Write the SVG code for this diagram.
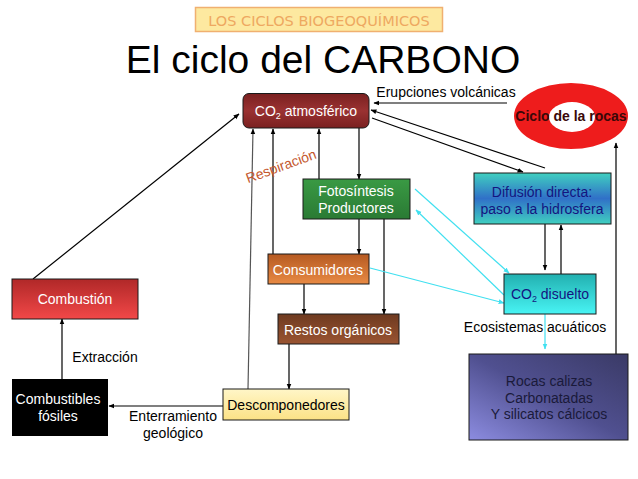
<svg xmlns="http://www.w3.org/2000/svg" width="638" height="479" viewBox="0 0 638 479">
<style>
.t{font-family:"Liberation Sans",Arial,sans-serif;font-size:14px;text-anchor:middle}
.w{fill:#ffffff}
.k{fill:#000000}
.ln{stroke:#000;stroke-width:1.2;fill:none}
.cy{stroke:#40e0f0;stroke-width:1.2;fill:none}
.bx{stroke:#1a1a1a;stroke-width:1}
</style>
<defs>
<marker id="a" viewBox="0 0 10 10" refX="9" refY="5" markerWidth="6" markerHeight="6" orient="auto" markerUnits="userSpaceOnUse"><path d="M0,1 L10,5 L0,9 z" fill="#000"/></marker>
<marker id="c" viewBox="0 0 10 10" refX="9" refY="5" markerWidth="6" markerHeight="6" orient="auto" markerUnits="userSpaceOnUse"><path d="M0,1 L10,5 L0,9 z" fill="#40e0f0"/></marker>
<linearGradient id="gAtm" x1="0" y1="0" x2="0" y2="1"><stop offset="0" stop-color="#7a2020"/><stop offset="0.5" stop-color="#9a3232"/><stop offset="1" stop-color="#7a2020"/></linearGradient>
<linearGradient id="gFot" x1="0" y1="0" x2="0" y2="1"><stop offset="0" stop-color="#3a9a44"/><stop offset="1" stop-color="#2a7a34"/></linearGradient>
<linearGradient id="gCon" x1="0" y1="0" x2="0" y2="1"><stop offset="0" stop-color="#b65a22"/><stop offset="1" stop-color="#e88a44"/></linearGradient>
<linearGradient id="gRes" x1="0" y1="0" x2="0" y2="1"><stop offset="0" stop-color="#6e3a20"/><stop offset="1" stop-color="#9a5432"/></linearGradient>
<linearGradient id="gDes" x1="0" y1="0" x2="0" y2="1"><stop offset="0" stop-color="#fff6c8"/><stop offset="1" stop-color="#fce286"/></linearGradient>
<linearGradient id="gCmb" x1="0" y1="0" x2="0" y2="1"><stop offset="0" stop-color="#b02828"/><stop offset="1" stop-color="#f24848"/></linearGradient>
<linearGradient id="gDif" x1="0" y1="0" x2="0" y2="1"><stop offset="0" stop-color="#40d0c0"/><stop offset="0.5" stop-color="#3070c8"/><stop offset="1" stop-color="#40d0c0"/></linearGradient>
<linearGradient id="gDis" x1="0" y1="0" x2="0" y2="1"><stop offset="0" stop-color="#22b0b0"/><stop offset="1" stop-color="#48f4f4"/></linearGradient>
<linearGradient id="gRoc" x1="0" y1="1" x2="1" y2="0"><stop offset="0" stop-color="#8c8ce0"/><stop offset="0.5" stop-color="#505090"/><stop offset="1" stop-color="#3a3a66"/></linearGradient>
</defs>

<g id="header">
<rect x="195.5" y="7.5" width="247" height="24" fill="#fde9a0" stroke="#f0b070" stroke-width="1.5"/>
<text x="319" y="26" font-family="'DejaVu Sans',Verdana,sans-serif" font-size="14.5" fill="#eea860" text-anchor="middle">LOS CICLOS BIOGEOQUÍMICOS</text>
<text x="323" y="73" font-family="'Liberation Sans',Arial,sans-serif" font-size="39" fill="#000" text-anchor="middle">El ciclo del CARBONO</text>
</g>

<g id="connectors">
<line class="ln" x1="507" y1="103" x2="374" y2="103" marker-end="url(#a)"/>
<line class="ln" x1="545" y1="168" x2="371" y2="110" marker-end="url(#a)"/>
<line class="ln" x1="372" y1="118" x2="523" y2="172" marker-end="url(#a)"/>
<line class="ln" x1="545" y1="224" x2="545" y2="270" marker-end="url(#a)"/>
<line class="ln" x1="561" y1="274" x2="561" y2="225" marker-end="url(#a)"/>
<line class="ln" x1="616" y1="354" x2="616" y2="143" marker-end="url(#a)"/>
<line class="ln" x1="33" y1="279" x2="239" y2="114" marker-end="url(#a)"/>
<line class="ln" x1="359" y1="128" x2="359" y2="179" marker-end="url(#a)"/>
<line class="ln" x1="319" y1="179" x2="319" y2="129" marker-end="url(#a)"/>
<line class="ln" x1="273" y1="254" x2="273" y2="129" marker-end="url(#a)"/>
<line x1="248" y1="389" x2="253" y2="129" stroke="#555" stroke-width="1.2" marker-end="url(#a)"/>
<line class="ln" x1="359" y1="219" x2="359" y2="254" marker-end="url(#a)"/>
<line class="ln" x1="384" y1="219" x2="384" y2="314" marker-end="url(#a)"/>
<line class="ln" x1="304" y1="284" x2="304" y2="314" marker-end="url(#a)"/>
<line class="ln" x1="289" y1="344" x2="289" y2="389" marker-end="url(#a)"/>
<line class="ln" x1="223" y1="406" x2="109" y2="406" marker-end="url(#a)"/>
<line class="ln" x1="62" y1="379" x2="62" y2="319" marker-end="url(#a)"/>
<line class="cy" x1="415" y1="189" x2="509" y2="273" marker-end="url(#c)"/>
<line class="cy" x1="504" y1="295" x2="416" y2="210" marker-end="url(#c)"/>
<line class="cy" x1="370" y1="268" x2="504" y2="303" marker-end="url(#c)"/>
<line class="cy" x1="545" y1="314" x2="545" y2="349" marker-end="url(#c)"/>
</g>

<g id="labels">
<text class="t k" x="446" y="97">Erupciones volcánicas</text>
<text class="t k" x="535" y="332">Ecosistemas acuáticos</text>
<text class="t k" x="105" y="362">Extracción</text>
<text class="t k" x="173" y="421">Enterramiento</text>
<text class="t k" x="173" y="438">geológico</text>
<text class="t" x="281" y="171" fill="#c4582e" font-size="15" transform="rotate(-20 281 166)">Respiración</text>
</g>

<g id="ciclo-rocas">
<ellipse cx="571" cy="116" rx="57" ry="33" fill="#ee1c1c"/>
<ellipse cx="572" cy="117" rx="23" ry="15" fill="#ffffff"/>
<text class="t" x="571" y="121" font-size="12" font-weight="bold" fill="#3a0808">Ciclo de la rocas</text>
</g>

<g id="co2-atm">
<rect class="bx" x="243" y="93.5" width="126" height="34.5" rx="6" fill="url(#gAtm)"/>
<text class="t w" x="306" y="116">CO<tspan font-size="9" dy="3">2</tspan><tspan dy="-3"> atmosférico</tspan></text>
</g>

<g id="fotosintesis">
<rect class="bx" x="303" y="179" width="107" height="40" fill="url(#gFot)"/>
<text class="t w" x="356" y="196">Fotosíntesis</text>
<text class="t w" x="356" y="213">Productores</text>
</g>

<g id="difusion">
<rect class="bx" x="474" y="173" width="137" height="51" fill="url(#gDif)"/>
<text class="t" x="542" y="197" fill="#141480">Difusión directa:</text>
<text class="t" x="542" y="214" fill="#141480">paso a la hidrosfera</text>
</g>

<g id="consumidores">
<rect class="bx" x="268" y="254" width="101" height="30" fill="url(#gCon)"/>
<text class="t w" x="318" y="275">Consumidores</text>
</g>

<g id="co2-disuelto">
<rect class="bx" x="504" y="274" width="92" height="40" fill="url(#gDis)"/>
<text class="t" x="550" y="299" fill="#141480">CO<tspan font-size="9" dy="3">2</tspan><tspan dy="-3"> disuelto</tspan></text>
</g>

<g id="combustion">
<rect class="bx" x="12" y="279" width="126" height="40" fill="url(#gCmb)"/>
<text class="t w" x="75" y="304">Combustión</text>
</g>

<g id="restos">
<rect class="bx" x="278" y="314" width="121" height="30" fill="url(#gRes)"/>
<text class="t w" x="338" y="335">Restos orgánicos</text>
</g>

<g id="rocas">
<rect class="bx" x="469" y="354" width="159" height="86" fill="url(#gRoc)"/>
<text class="t" x="549" y="386" fill="#1a1a3a">Rocas calizas</text>
<text class="t" x="549" y="403" fill="#1a1a3a">Carbonatadas</text>
<text class="t" x="549" y="419" fill="#1a1a3a">Y silicatos cálcicos</text>
</g>

<g id="combustibles">
<rect x="12" y="379" width="96" height="57" fill="#000"/>
<text class="t w" x="58" y="404">Combustibles</text>
<text class="t w" x="58" y="421">fósiles</text>
</g>

<g id="descomponedores">
<rect class="bx" x="223" y="389" width="126" height="31" fill="url(#gDes)"/>
<text class="t k" x="286" y="410">Descomponedores</text>
</g>
</svg>
